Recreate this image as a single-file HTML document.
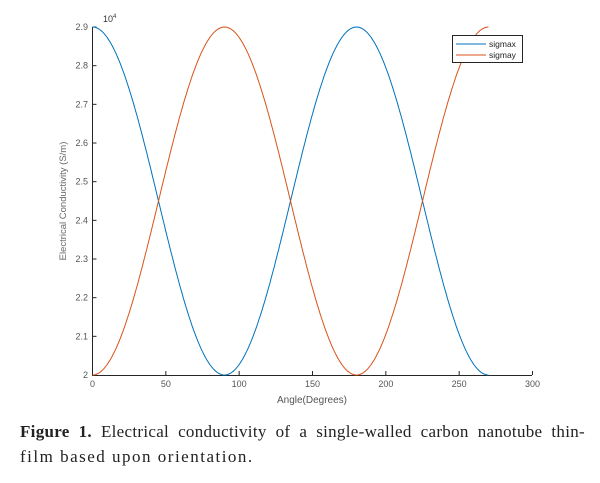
<!DOCTYPE html>
<html><head><meta charset="utf-8"><style>
body{margin:0;background:#fff;width:600px;height:483px;overflow:hidden;position:relative;font-family:"Liberation Sans",sans-serif}
.cap{position:absolute;left:20px;width:565px;font-family:"Liberation Serif",serif;font-size:17px;line-height:25px;color:#222;white-space:nowrap}
.l1{top:419px;text-align:justify;text-align-last:justify;letter-spacing:0.3px}
.l2{top:444px;letter-spacing:1.5px}
</style></head><body>
<svg width="600" height="410" style="position:absolute;left:0;top:0" font-family="Liberation Sans, sans-serif" font-size="9" fill="#555">
<g stroke="#262626" stroke-width="1" fill="none">
<path d="M92.5,27 V375.5 H532"/>
<g id="xt"></g>
</g>
<g id="lab"></g>
<text x="103" y="22" font-size="9" fill="#333">10<tspan dy="-4" font-size="6">4</tspan></text>
<text x="312" y="403" text-anchor="middle" font-size="10">Angle(Degrees)</text>
<text transform="translate(66,201) rotate(-90)" text-anchor="middle" font-size="9.5" fill="#666">Electrical Conductivity (S/m)</text>
<polyline id="sx" fill="none" stroke="#0072BD" stroke-width="1"/>
<polyline id="sy" fill="none" stroke="#D95319" stroke-width="1"/>
<rect x="452.5" y="35.5" width="70" height="27" fill="#fff" stroke="#262626"/>
<line x1="456" y1="44" x2="486" y2="44" stroke="#0072BD"/>
<line x1="456" y1="55" x2="486" y2="55" stroke="#D95319"/>
<text x="489" y="47" font-size="8.5" fill="#222">sigmax</text>
<text x="489" y="58" font-size="8.5" fill="#222">sigmay</text>
</svg>
<div class="cap l1"><b>Figure 1.</b> Electrical conductivity of a single-walled carbon nanotube thin-</div>
<div class="cap l2">film based upon orientation.</div>
<script>
var X=function(t){return 92.5+t*440/300},Y=function(v){return 375-(v-2)*348/0.9};
var a=[],b=[];for(var t=0;t<=270;t+=1){var c=Math.cos(2*t*Math.PI/180);a.push(X(t).toFixed(1)+','+Y(2.45+0.45*c).toFixed(1));b.push(X(t).toFixed(1)+','+Y(2.45-0.45*c).toFixed(1));}
document.getElementById('sx').setAttribute('points',a.join(' '));document.getElementById('sy').setAttribute('points',b.join(' '));
var s='',l='';
for(var i=0;i<=6;i++){var x=X(i*50);s+='<line x1="'+x+'" y1="375" x2="'+x+'" y2="371"/>';l+='<text x="'+x+'" y="387" text-anchor="middle">'+(i*50)+'</text>';}
for(var j=0;j<=9;j++){var v=2+j*0.1,y=Y(v);s+='<line x1="92.5" y1="'+y+'" x2="96.5" y2="'+y+'"/>';l+='<text x="88" y="'+(y+3)+'" text-anchor="end">'+(j==0?'2':v.toFixed(1))+'</text>';}
document.getElementById('xt').innerHTML=s;document.getElementById('lab').innerHTML=l;
</script>
</body></html>
